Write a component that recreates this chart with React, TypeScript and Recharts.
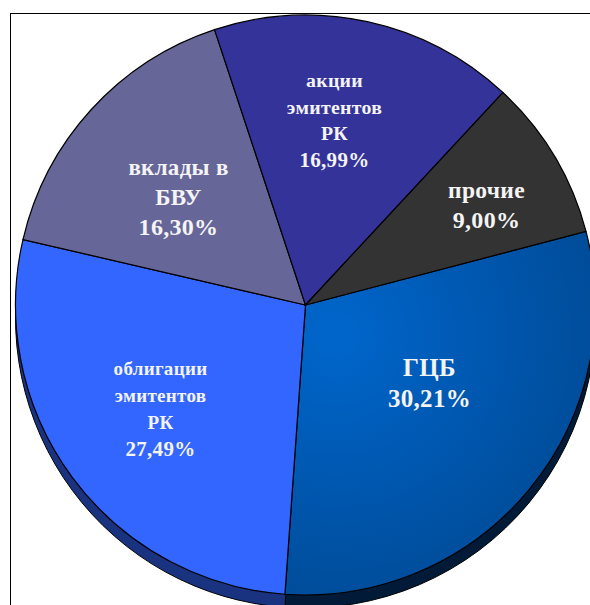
import { Cell, Pie, PieChart } from "recharts";

const categories = ["ГЦБ", "облигации эмитентов РК", "вклады в БВУ", "акции эмитентов РК", "прочие"];
const shares = [30.21, 27.49, 16.3, 16.99, 9.0];
const shareLabels = ["30,21%", "27,49%", "16,30%", "16,99%", "9,00%"];

const labelLines = [
  ["ГЦБ"],
  ["облигации", "эмитентов", "РК"],
  ["вклады в", "БВУ"],
  ["акции", "эмитентов", "РК"],
  ["прочие"],
];

// label blocks sit by hand in the original, so: centre offset from the pie centre
const labelOffsets = [
  [124, 78],
  [-145, 104],
  [-127, -108],
  [29, -185],
  [181, -100],
];
const labelFonts = [25, 19, 23, 19.8, 23.5];
const percentFonts = [25, 21, 24, 21, 24];
const labelLeading = [31, 26.7, 30, 26.7, 30];

const topColors = ["url(#gcbFill)", "#3366ff", "#666699", "#333399", "#333333"];
const sideColors = ["#001a38", "#1a3380", "#333355", "#1a1a50", "#1a1a1a"];

const data = categories.map((name, i) => ({ name, value: shares[i] }));

const CX = 305.5;
const CY = 305;
const R = 290;
const START = 14.7;

function renderLabel(props: any) {
  const { cx, cy, index } = props;
  const lines = [...labelLines[index], shareLabels[index]];
  const lead = labelLeading[index];
  const x = cx + labelOffsets[index][0];
  const y = cy + labelOffsets[index][1] - ((lines.length - 1) * lead) / 2;
  return (
    <text
      key={index}
      x={x}
      y={y}
      textAnchor="middle"
      fill="#f4f4f4"
      fontFamily="Liberation Serif"
      fontWeight="bold"
      letterSpacing={0.3}
    >
      {lines.map((line, i) => (
        <tspan
          key={i}
          x={x}
          y={y + i * lead}
          dominantBaseline="central"
          fontSize={i === lines.length - 1 ? percentFonts[index] : labelFonts[index]}
        >
          {line}
        </tspan>
      ))}
    </text>
  );
}

export default function App() {
  return (
    <div style={{ position: "absolute", left: 0, top: 0, width: 590, height: 605, overflow: "hidden", background: "#fff" }}>
      <div
        style={{
          position: "absolute",
          left: 10,
          top: 13,
          width: 600,
          height: 620,
          borderLeft: "1.5px solid #000",
          borderTop: "1.5px solid #000",
        }}
      />
      <div style={{ position: "absolute", left: 0, top: 0 }}>
        <PieChart width={640} height={640} margin={{ top: 0, right: 0, bottom: 0, left: 0 }}>
          <defs>
            <radialGradient id="gcbFill" gradientUnits="userSpaceOnUse" cx={CX + 30} cy={CY + 30} r={270}>
              <stop offset="0%" stopColor="#0066cc" />
              <stop offset="100%" stopColor="#004c99" />
            </radialGradient>
          </defs>
          <Pie
            data={data}
            dataKey="value"
            cx={CX}
            cy={CY + 13}
            outerRadius={R}
            startAngle={START}
            endAngle={START - 360}
            stroke="#000"
            strokeWidth={1}
            isAnimationActive={false}
          >
            {data.map((d, i) => (
              <Cell key={d.name} fill={sideColors[i]} />
            ))}
          </Pie>
          <Pie
            data={data}
            dataKey="value"
            cx={CX}
            cy={CY}
            outerRadius={R}
            startAngle={START}
            endAngle={START - 360}
            stroke="#000"
            strokeWidth={1.2}
            label={renderLabel}
            labelLine={false}
            isAnimationActive={false}
          >
            {data.map((d, i) => (
              <Cell key={d.name} fill={topColors[i]} />
            ))}
          </Pie>
        </PieChart>
      </div>
    </div>
  );
}
